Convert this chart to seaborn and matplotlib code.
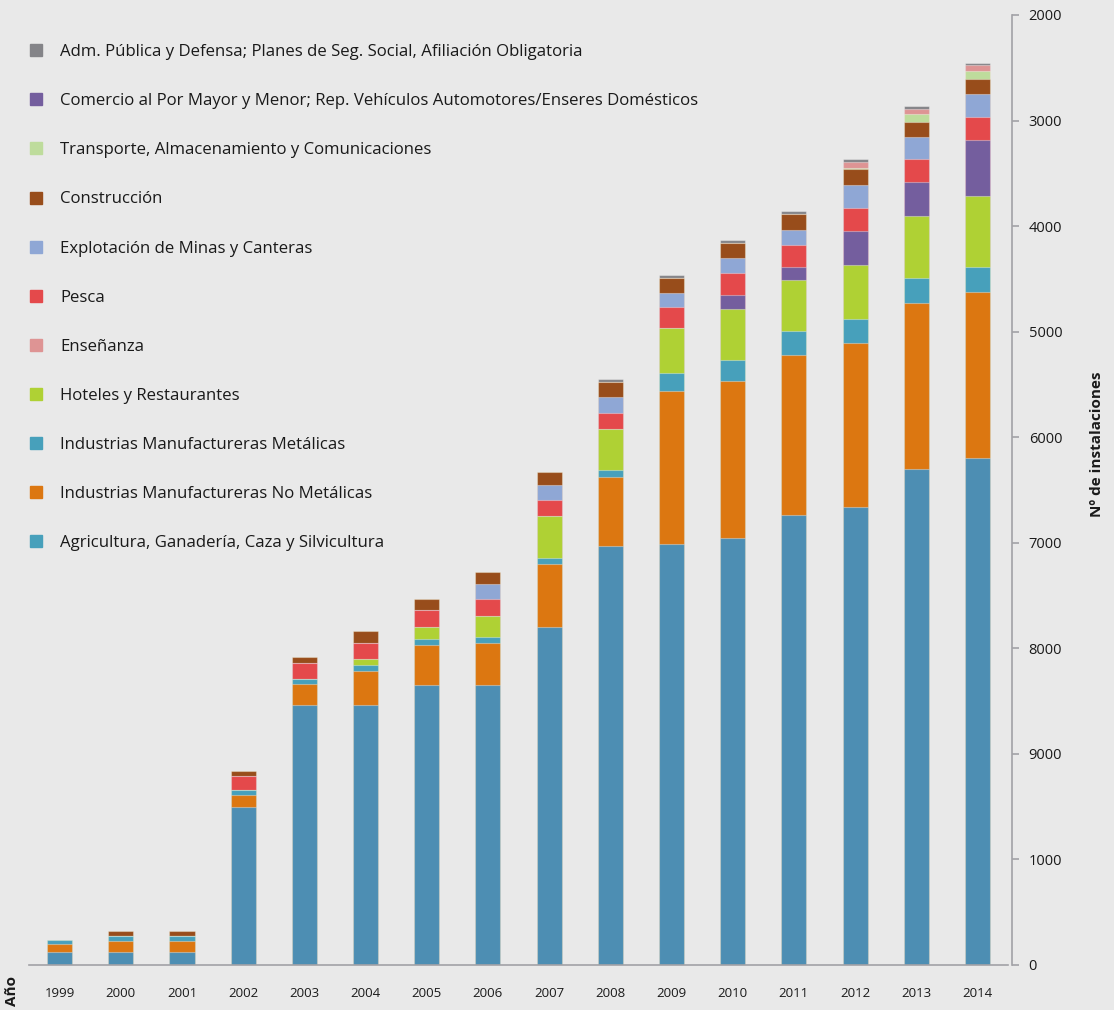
import numpy as np
import pandas as pd
import seaborn as sns
import matplotlib.pyplot as plt
from matplotlib.lines import Line2D

years = ["1999", "2000", "2001", "2002", "2003", "2004", "2005", "2006",
         "2007", "2008", "2009", "2010", "2011", "2012", "2013", "2014"]

# installations per sector (stack order bottom -> top)
agricultura = [123, 123, 123, 1498, 2464, 2464, 2654, 2654, 3204, 3972, 3991, 4047, 4265, 4341, 4701, 4806]
no_metalicas = [76, 104, 104, 114, 199, 322, 379, 398, 597, 654, 1450, 1488, 1517, 1555, 1573, 1573]
metalicas = [38, 47, 47, 47, 47, 57, 57, 57, 57, 66, 171, 199, 228, 228, 237, 237]
hoteles = [0, 0, 0, 0, 0, 57, 114, 199, 398, 389, 427, 483, 483, 512, 588, 673]
comercio = [0, 0, 0, 0, 0, 0, 0, 0, 0, 0, 0, 133, 123, 322, 322, 531]
pesca = [0, 0, 0, 133, 152, 152, 161, 161, 152, 152, 190, 209, 209, 218, 218, 218]
explotacion = [0, 0, 0, 0, 0, 0, 0, 142, 142, 152, 142, 142, 142, 209, 209, 209]
construccion = [0, 47, 47, 47, 57, 114, 104, 114, 123, 142, 142, 142, 152, 152, 142, 142]
transporte = [0, 0, 0, 0, 0, 0, 0, 0, 0, 0, 0, 0, 0, 10, 76, 76]
ensenanza = [0, 0, 0, 0, 0, 0, 0, 0, 0, 0, 0, 0, 0, 57, 47, 57]
adm_publica = [0, 0, 0, 0, 0, 0, 0, 0, 0, 28, 28, 28, 28, 28, 28, 28]

y_ticks = [0, 1000, 2000, 3000, 4000, 5000, 6000, 7000, 8000, 9000]
y_tick_labels = ["0", "1000", "9000", "8000", "7000", "6000", "5000", "4000", "3000", "2000"]

layers = [
    ("Agricultura, Ganadería, Caza y Silvicultura", agricultura, "#4d8eb3"),
    ("Industrias Manufactureras No Metálicas", no_metalicas, "#dc7711"),
    ("Industrias Manufactureras Metálicas", metalicas, "#47a0bb"),
    ("Hoteles y Restaurantes", hoteles, "#afd134"),
    ("Comercio al Por Mayor y Menor; Rep. Vehículos Automotores/Enseres Domésticos", comercio, "#745e9e"),
    ("Pesca", pesca, "#e4494b"),
    ("Explotación de Minas y Canteras", explotacion, "#8fa7d5"),
    ("Construcción", construccion, "#984d1b"),
    ("Transporte, Almacenamiento y Comunicaciones", transporte, "#bedc9c"),
    ("Enseñanza", ensenanza, "#de9494"),
    ("Adm. Pública y Defensa; Planes de Seg. Social, Afiliación Obligatoria", adm_publica, "#848488"),
]

# legend order as in the original figure (top -> bottom)
legend_items = [
    ("Adm. Pública y Defensa; Planes de Seg. Social, Afiliación Obligatoria", "#848488"),
    ("Comercio al Por Mayor y Menor; Rep. Vehículos Automotores/Enseres Domésticos", "#745e9e"),
    ("Transporte, Almacenamiento y Comunicaciones", "#bedc9c"),
    ("Construcción", "#984d1b"),
    ("Explotación de Minas y Canteras", "#8fa7d5"),
    ("Pesca", "#e4494b"),
    ("Enseñanza", "#de9494"),
    ("Hoteles y Restaurantes", "#afd134"),
    ("Industrias Manufactureras Metálicas", "#47a0bb"),
    ("Industrias Manufactureras No Metálicas", "#dc7711"),
    ("Agricultura, Ganadería, Caza y Silvicultura", "#47a0bb"),
]

bg = "#e9e9e9"
sns.set_theme(style="white", rc={"figure.facecolor": bg, "axes.facecolor": bg})
plt.rcParams["font.family"] = ["Open Sans", "DejaVu Sans"]

fig = plt.figure(figsize=(11.14, 10.10), dpi=100)
ax = fig.add_axes([29 / 1114, 1 - 965 / 1010, (1012 - 29) / 1114, (965 - 15) / 1010])

# stacked bars: draw cumulative totals, tallest first
df = pd.DataFrame({name: vals for name, vals, _ in layers}, index=years)
cum = df.cumsum(axis=1)
for name, _, color in reversed(layers):
    sns.barplot(x=years, y=cum[name].values, color=color, saturation=1,
                width=0.41, errorbar=None, ax=ax,
                edgecolor=(1, 1, 1, 0.35), linewidth=0.8)

ax.set_xlim(-0.5, 15.565)
ax.set_ylim(0, 9000)

for s in ["left", "top"]:
    ax.spines[s].set_visible(False)
for s in ["right", "bottom"]:
    ax.spines[s].set_color("#a2a2a6")
    ax.spines[s].set_linewidth(1.2)
ax.spines["bottom"].set_bounds(-0.5, 15.5)

# y axis on the right
ax.yaxis.tick_right()
ax.set_yticks(y_ticks)
ax.set_yticklabels(y_tick_labels, fontsize=10.5, color="#1a1a1a")
ax.tick_params(axis="y", direction="out", length=5, width=1.2, color="#a2a2a6", pad=7)
ax.set_ylabel("")

# x axis: ticks at the boundaries, labels under the bars
ax.set_xticks(np.arange(-0.5, 16, 1))
ax.set_xticklabels([])
ax.set_xticks(np.arange(16), minor=True)
ax.set_xticklabels(years, minor=True, fontsize=9.5, color="#1a1a1a")
ax.tick_params(axis="x", which="major", direction="out", length=5, width=1.2, color="#a2a2a6")
ax.tick_params(axis="x", which="minor", length=0, pad=16)
ax.set_xlabel("")

fig.text(1097 / 1114, 1 - 444 / 1010, "Nº de instalaciones", rotation=90,
         fontsize=11, fontweight="bold", ha="center", va="center", color="#1a1a1a")
fig.text(12 / 1114, 1 - 991 / 1010, "Año", rotation=90,
         fontsize=11, fontweight="bold", ha="center", va="center", color="#1a1a1a")

handles = [Line2D([], [], marker="s", linestyle="", markersize=8, color=c) for _, c in legend_items]
labels = [n for n, _ in legend_items]
fig.legend(handles, labels, loc="upper left", bbox_to_anchor=(12 / 1114, 1 - 29 / 1010),
           frameon=False, fontsize=12.1, labelspacing=1.97, handletextpad=0.95,
           handlelength=1.0, labelcolor="#1a1a1a")

fig.savefig("out.png", dpi=100, facecolor=bg)
